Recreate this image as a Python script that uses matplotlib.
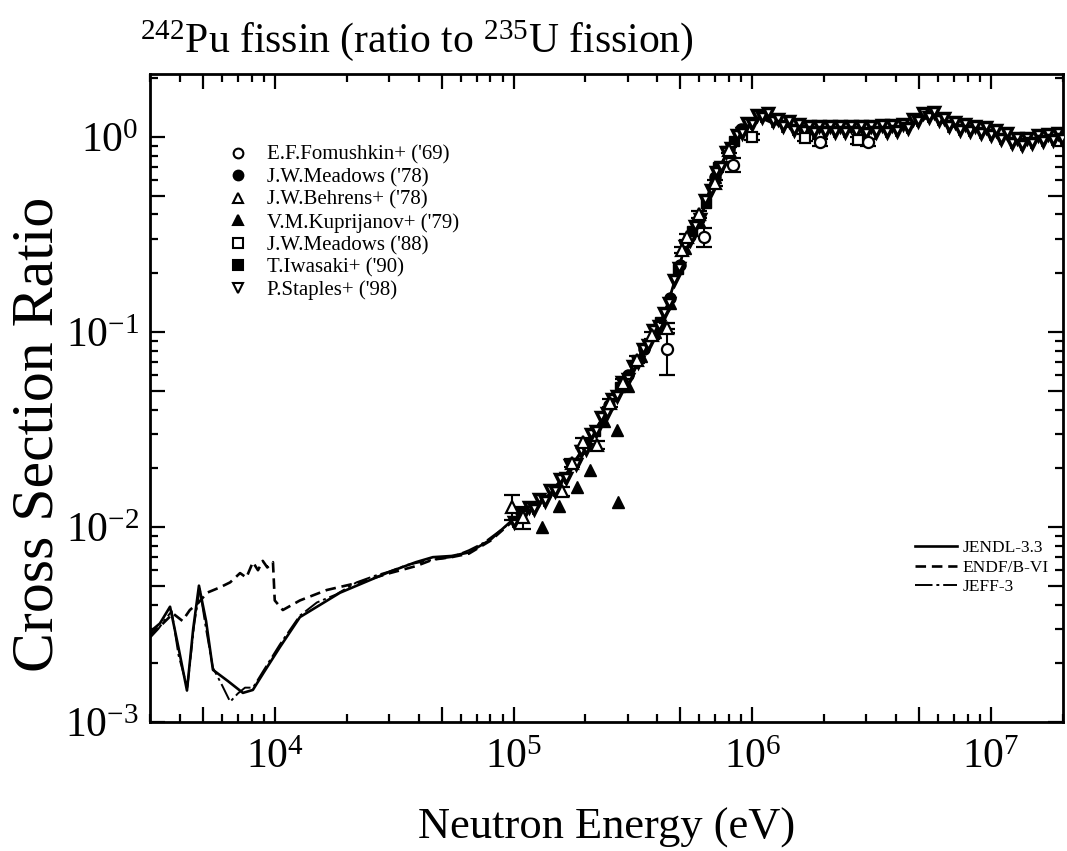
import numpy as np
import matplotlib
matplotlib.use('Agg')
import matplotlib.pyplot as plt
from matplotlib.ticker import FixedLocator, FuncFormatter, NullFormatter
from matplotlib.lines import Line2D

plt.rcParams['font.family'] = ['Liberation Serif', 'DejaVu Serif']
plt.rcParams['mathtext.fontset'] = 'custom'
plt.rcParams['mathtext.rm'] = 'Liberation Serif'
plt.rcParams['mathtext.it'] = 'Liberation Serif:italic'
plt.rcParams['mathtext.bf'] = 'Liberation Serif:bold'

# ---------------- evaluated curves ----------------
jendl_E = [3000, 3300, 3640, 3950, 4285, 4550, 4810, 5150, 5505, 6365, 7350, 8090, 9000,
           10500, 12740, 18750, 30350, 39000, 45900, 55000, 65000, 80000, 1.0e5, 1.38e5,
           1.67e5, 2.15e5, 2.61e5, 3.16e5, 3.83e5, 4.31e5, 4.74e5, 5.22e5, 6.15e5, 6.84e5,
           8.06e5, 8.87e5, 1.0e6, 1.1e6, 1.25e6, 1.5e6, 2.0e6, 3.0e6, 4.0e6, 4.7e6, 5.6e6,
           6.5e6, 8.0e6, 1.05e7, 1.3e7, 1.6e7, 2.0e7]
jendl_Y = [2.9e-3, 3.2e-3, 3.9e-3, 2.4e-3, 1.45e-3, 3.0e-3, 5.0e-3, 3.3e-3, 1.85e-3, 1.62e-3,
           1.41e-3, 1.46e-3, 1.8e-3, 2.42e-3, 3.45e-3, 4.6e-3, 5.9e-3, 6.6e-3, 7.0e-3, 7.1e-3,
           7.4e-3, 8.6e-3, 0.0110, 0.0143, 0.0189, 0.0300, 0.0448, 0.066, 0.099, 0.125, 0.185,
           0.273, 0.407, 0.601, 0.889, 1.09, 1.22, 1.27, 1.18, 1.12, 1.10, 1.10, 1.11, 1.18,
           1.31, 1.20, 1.11, 1.04, 0.96, 0.99, 1.01]

endf_E = [3000, 3400, 3745, 4100, 4405, 4800, 5200, 5890, 6500, 7150, 7600, 8090, 8500, 8900,
          9300, 9820, 9990, 10800, 12740, 16500, 22100, 30350, 39000, 45900, 55000, 65000,
          80000, 1.0e5, 1.38e5, 1.67e5, 2.15e5, 2.61e5, 3.16e5, 3.83e5, 4.31e5, 4.74e5,
          5.22e5, 6.15e5, 6.84e5, 8.06e5, 8.87e5, 1.0e6, 1.1e6, 1.25e6, 1.5e6, 2.0e6, 3.0e6,
          4.0e6, 4.7e6, 5.6e6, 6.5e6, 8.0e6, 1.05e7, 1.3e7, 1.6e7, 2.0e7]
endf_Y = [2.8e-3, 3.2e-3, 3.6e-3, 3.3e-3, 3.75e-3, 4.1e-3, 4.6e-3, 4.9e-3, 5.2e-3, 5.8e-3,
          5.5e-3, 6.6e-3, 6.0e-3, 6.7e-3, 6.2e-3, 6.6e-3, 4.2e-3, 3.75e-3, 4.2e-3, 4.75e-3,
          5.16e-3, 5.8e-3, 6.3e-3, 6.8e-3, 7.0e-3, 7.3e-3, 8.5e-3, 0.0108, 0.0141, 0.0186,
          0.0296, 0.0440, 0.065, 0.097, 0.122, 0.180, 0.268, 0.400, 0.590, 0.880, 1.07, 1.20,
          1.24, 1.16, 1.11, 1.09, 1.09, 1.10, 1.16, 1.28, 1.18, 1.10, 1.03, 0.97, 0.99, 1.00]

jeff_E = [3000, 3250, 3500, 3700, 3950, 4300, 4600, 4850, 5150, 5500, 6000, 6500, 7000, 7500,
          8100, 9000, 10500, 12700, 15000, 18000, 22000, 26000, 30000, 36000, 46000, 55000,
          65000, 75000, 1.0e5, 1.38e5, 1.67e5, 2.15e5, 2.61e5, 3.16e5, 3.83e5, 4.31e5,
          4.74e5, 5.22e5, 6.15e5, 6.84e5, 8.06e5, 8.87e5, 1.0e6, 1.1e6, 1.25e6, 1.5e6, 2.0e6,
          3.0e6, 4.0e6, 4.7e6, 5.6e6, 6.5e6, 8.0e6, 1.05e7, 1.3e7, 1.6e7, 2.0e7]
jeff_Y = [2.7e-3, 3.0e-3, 3.4e-3, 3.7e-3, 2.2e-3, 1.5e-3, 3.2e-3, 4.8e-3, 3.0e-3, 1.9e-3,
          1.55e-3, 1.27e-3, 1.4e-3, 1.5e-3, 1.5e-3, 1.85e-3, 2.5e-3, 3.5e-3, 4.1e-3, 4.5e-3,
          5.2e-3, 5.6e-3, 5.9e-3, 6.4e-3, 6.8e-3, 7.0e-3, 7.6e-3, 8.3e-3, 0.0108, 0.0142,
          0.0188, 0.0302, 0.0445, 0.066, 0.098, 0.124, 0.183, 0.270, 0.405, 0.598, 0.885,
          1.08, 1.21, 1.25, 1.17, 1.11, 1.10, 1.10, 1.11, 1.17, 1.30, 1.19, 1.10, 1.03, 0.96,
          0.99, 1.01]

# ---------------- experimental data ----------------
fom_E = [4.39e5, 6.3e5, 8.3e5, 1.92e6, 3.05e6]
fom_Y = [0.082, 0.307, 0.72, 0.94, 0.94]
fom_err = [0.022, 0.035, 0.06, 0.04, 0.04]

mead78_E = [2.0e5, 2.5e5, 3.0e5, 3.5e5, 4.0e5, 4.5e5, 5.0e5, 5.5e5, 6.0e5, 7.0e5, 8.0e5, 9.0e5]
mead78_Y = [0.027, 0.042, 0.060, 0.082, 0.105, 0.15, 0.22, 0.31, 0.38, 0.62, 0.86, 1.10]

behr_E = [9.8e4, 1.1e5, 1.59e5, 1.75e5, 1.95e5, 2.23e5, 2.53e5, 2.87e5, 3.3e5, 3.8e5, 4.39e5,
          5.07e5, 5.3e5, 6.0e5, 7.0e5, 8.0e5]
behr_Y = [0.0127, 0.0112, 0.0152, 0.0213, 0.0273, 0.0264, 0.0433, 0.0547, 0.072, 0.096,
          0.105, 0.264, 0.307, 0.40, 0.58, 0.86]
behr_err = [0.0018, 0.0014, 0.0008, 0.001, 0.0012, 0.0012, 0.002, 0.0025, 0.003, 0.004,
            0.006, 0.01, 0.012, 0.015, 0.02, 0.03]

kup_E = [1.32e5, 1.55e5, 1.84e5, 2.09e5, 2.4e5, 2.7e5, 2.74e5, 3.01e5, 3.4e5, 3.9e5, 4.5e5,
         5.2e5, 6.0e5, 7.0e5]
kup_Y = [0.0100, 0.0128, 0.0160, 0.0196, 0.035, 0.0314, 0.0134, 0.053, 0.075, 0.100, 0.14,
         0.27, 0.37, 0.62]

mead88_E = [1.0e6, 1.66e6, 2.77e6]
mead88_Y = [1.0, 0.99, 0.96]
mead88_err = [0.04, 0.04, 0.04]

iwa_E = [2.2e5, 2.8e5, 3.3e5, 4.1e5, 4.9e5, 5.6e5, 6.4e5, 7.2e5, 8.4e5]
iwa_Y = [0.031, 0.052, 0.072, 0.112, 0.21, 0.33, 0.46, 0.70, 0.95]

stap_E = [1.00e5, 1.05e5, 1.10e5, 1.16e5, 1.22e5, 1.28e5, 1.35e5, 1.42e5, 1.49e5, 1.57e5,
          1.65e5, 1.73e5, 1.82e5, 1.91e5, 2.01e5, 2.11e5, 2.22e5, 2.33e5, 2.45e5, 2.58e5,
          2.71e5, 2.85e5, 3.00e5, 3.15e5, 3.31e5, 3.48e5, 3.66e5, 3.85e5, 4.05e5, 4.26e5,
          4.48e5, 4.71e5, 4.95e5, 5.20e5, 5.47e5, 5.75e5, 6.05e5, 6.36e5, 6.69e5, 7.03e5,
          7.39e5, 7.77e5, 8.17e5, 8.59e5, 9.03e5, 9.50e5,
          1.00e6, 1.05e6, 1.10e6, 1.16e6, 1.22e6, 1.28e6, 1.35e6, 1.42e6, 1.49e6, 1.57e6,
          1.65e6, 1.73e6, 1.82e6, 1.91e6, 2.01e6, 2.11e6, 2.22e6, 2.33e6, 2.45e6, 2.58e6,
          2.71e6, 2.85e6, 3.00e6, 3.15e6, 3.31e6, 3.48e6, 3.66e6, 3.85e6, 4.05e6, 4.26e6,
          4.48e6, 4.71e6, 4.95e6, 5.20e6, 5.47e6, 5.75e6, 6.05e6, 6.36e6, 6.69e6, 7.03e6,
          7.39e6, 7.77e6, 8.17e6, 8.59e6, 9.03e6, 9.50e6, 9.99e6, 1.05e7, 1.10e7, 1.16e7,
          1.22e7, 1.28e7, 1.35e7, 1.42e7, 1.49e7, 1.57e7, 1.65e7, 1.73e7, 1.82e7, 1.91e7,
          1.98e7]
stap_Y = [0.0106, 0.0118, 0.0115, 0.0127, 0.0124, 0.0139, 0.0136, 0.0154, 0.0153, 0.0176,
          0.0179, 0.0207, 0.0211, 0.0245, 0.0252, 0.0299, 0.0310, 0.0366, 0.0383, 0.0453,
          0.0470, 0.0551, 0.0572, 0.0670, 0.0698, 0.0814, 0.0854, 0.1020, 0.1067, 0.1257,
          0.1407, 0.1854, 0.2134, 0.2760, 0.2959, 0.3502, 0.3783, 0.4738, 0.5335, 0.6592,
          0.6984, 0.8343, 0.8730, 1.0197, 1.0476, 1.1845,
          1.16, 1.30, 1.26, 1.32, 1.20, 1.24, 1.13, 1.20, 1.09, 1.16,
          1.07, 1.14, 1.06, 1.13, 1.06, 1.13, 1.06, 1.13, 1.06, 1.13,
          1.06, 1.14, 1.05, 1.14, 1.06, 1.15, 1.06, 1.15, 1.07, 1.16,
          1.11, 1.24, 1.21, 1.33, 1.27, 1.34, 1.22, 1.25, 1.13, 1.19,
          1.09, 1.16, 1.07, 1.14, 1.05, 1.12, 1.02, 1.08, 0.98, 1.05,
          0.93, 0.99, 0.91, 0.99, 0.93, 1.02, 0.95, 1.03, 0.96, 1.05,
          0.97]
stap_relerr = 0.07   # typical relative uncertainty read from the error-bar band

legend_labels = ["E.F.Fomushkin+ ('69)", "J.W.Meadows ('78)", "J.W.Behrens+ ('78)",
                 "V.M.Kuprijanov+ ('79)", "J.W.Meadows ('88)", "T.Iwasaki+ ('90)",
                 "P.Staples+ ('98)"]
curve_labels = ["JENDL-3.3", "ENDF/B-VI", "JEFF-3"]

# ---------------- figure ----------------
fig = plt.figure(figsize=(10.67, 8.51), dpi=100)
ax = fig.add_axes([150 / 1067, (851 - 722) / 851, 913 / 1067, 648 / 851])
ax.set_xscale('log')
ax.set_yscale('log')
ax.set_xlim(3.0e3, 2.0e7)
ax.set_ylim(1e-3, 2.1)

lw = 1.9
ax.plot(jendl_E, jendl_Y, color='k', lw=lw, ls='-', zorder=3)
ax.plot(endf_E, endf_Y, color='k', lw=lw, ls=(0, (4, 2.2)), zorder=3)
ax.plot(jeff_E, jeff_Y, color='k', lw=1.4, ls=(0, (9, 2, 1.5, 2)), zorder=3)

ms = 8
mew = 1.6
ekw = dict(ecolor='k', elinewidth=1.5, capsize=6, capthick=1.5)
stap_Y_arr = np.array(stap_Y)
ax.errorbar(stap_E, stap_Y, yerr=stap_relerr * stap_Y_arr, ls='none', marker='v', ms=6.5,
            mfc='white', mec='k', mew=2.5, ecolor='k', elinewidth=2.6, capsize=0, zorder=4)
ax.plot(mead78_E, mead78_Y, ls='none', marker='o', ms=ms, mfc='k', mec='k', zorder=4)
ax.plot(iwa_E, iwa_Y, ls='none', marker='s', ms=ms - 1, mfc='k', mec='k', zorder=4)
ax.plot(kup_E, kup_Y, ls='none', marker='^', ms=ms + 1, mfc='k', mec='k', zorder=4)
ax.errorbar(behr_E, behr_Y, yerr=behr_err, ls='none', marker='^', ms=ms, mfc='white',
            mec='k', mew=mew, zorder=5, **ekw)
ax.errorbar(fom_E, fom_Y, yerr=fom_err, ls='none', marker='o', ms=ms, mfc='white',
            mec='k', mew=mew, zorder=5, **ekw)
ax.errorbar(mead88_E, mead88_Y, yerr=mead88_err, ls='none', marker='s', ms=ms - 1, mfc='white',
            mec='k', mew=mew, zorder=5, **ekw)

# ---------------- ticks ----------------
def decade_ticks(lo, hi):
    t = []
    for d in range(lo, hi + 1):
        t += [10.0 ** d, 5 * 10.0 ** d]
    return t

def minor_ticks(lo, hi):
    t = []
    for d in range(lo, hi + 1):
        t += [m * 10.0 ** d for m in (2, 3, 4, 6, 7, 8, 9)]
    return t

def fmt(v, pos):
    e = np.log10(v)
    if abs(e - round(e)) < 1e-6:
        return r'$\mathregular{10^{%d}}$' % int(round(e))
    return ''

for axis, lo, hi in ((ax.xaxis, 3, 7), (ax.yaxis, -3, 0)):
    axis.set_major_locator(FixedLocator(decade_ticks(lo, hi)))
    axis.set_minor_locator(FixedLocator(minor_ticks(lo, hi)))
    axis.set_major_formatter(FuncFormatter(fmt))
    axis.set_minor_formatter(NullFormatter())

ax.tick_params(which='both', direction='in', top=True, right=True, width=1.6, colors='k')
ax.tick_params(which='major', length=11)
ax.tick_params(which='minor', length=5.5)
ax.tick_params(axis='x', which='major', pad=12, labelsize=30)
ax.tick_params(axis='y', which='major', pad=8, labelsize=30)
for s in ax.spines.values():
    s.set_linewidth(2.0)

ax.set_xlabel('Neutron Energy (eV)', fontsize=32, labelpad=22)
ax.set_ylabel('Cross Section Ratio', fontsize=43)
ax.yaxis.set_label_coords(-0.093, 0.444)

fig.text(140 / 1067, (851 - 52) / 851, r'$^{242}$Pu fissin (ratio to $^{235}$U fission)',
         fontsize=30, ha='left', va='baseline')

# ---------------- legends ----------------
hkw = dict(ls='none', mec='k', mew=1.5, ms=7)
handles = [Line2D([], [], marker='o', mfc='white', **hkw),
           Line2D([], [], marker='o', mfc='k', **hkw),
           Line2D([], [], marker='^', mfc='white', **hkw),
           Line2D([], [], marker='^', mfc='k', **hkw),
           Line2D([], [], marker='s', mfc='white', **hkw),
           Line2D([], [], marker='s', mfc='k', **hkw),
           Line2D([], [], marker='v', mfc='white', **hkw)]
leg1 = ax.legend(handles, legend_labels, loc='upper left', bbox_to_anchor=(0.085, 0.89),
                 frameon=False, fontsize=15, handlelength=1.0, handletextpad=0.9,
                 labelspacing=0.14, borderpad=0, borderaxespad=0)
ax.add_artist(leg1)

chandles = [Line2D([], [], color='k', lw=lw, ls='-'),
            Line2D([], [], color='k', lw=lw, ls=(0, (4, 2.2))),
            Line2D([], [], color='k', lw=1.4, ls=(0, (9, 2, 1.5, 2)))]
ax.legend(chandles, curve_labels, loc='upper left', bbox_to_anchor=(0.838, 0.281),
          frameon=False, fontsize=12.5, handlelength=2.4, handletextpad=0.35,
          labelspacing=0.2, borderpad=0, borderaxespad=0)

fig.savefig('out.png', dpi=100)
